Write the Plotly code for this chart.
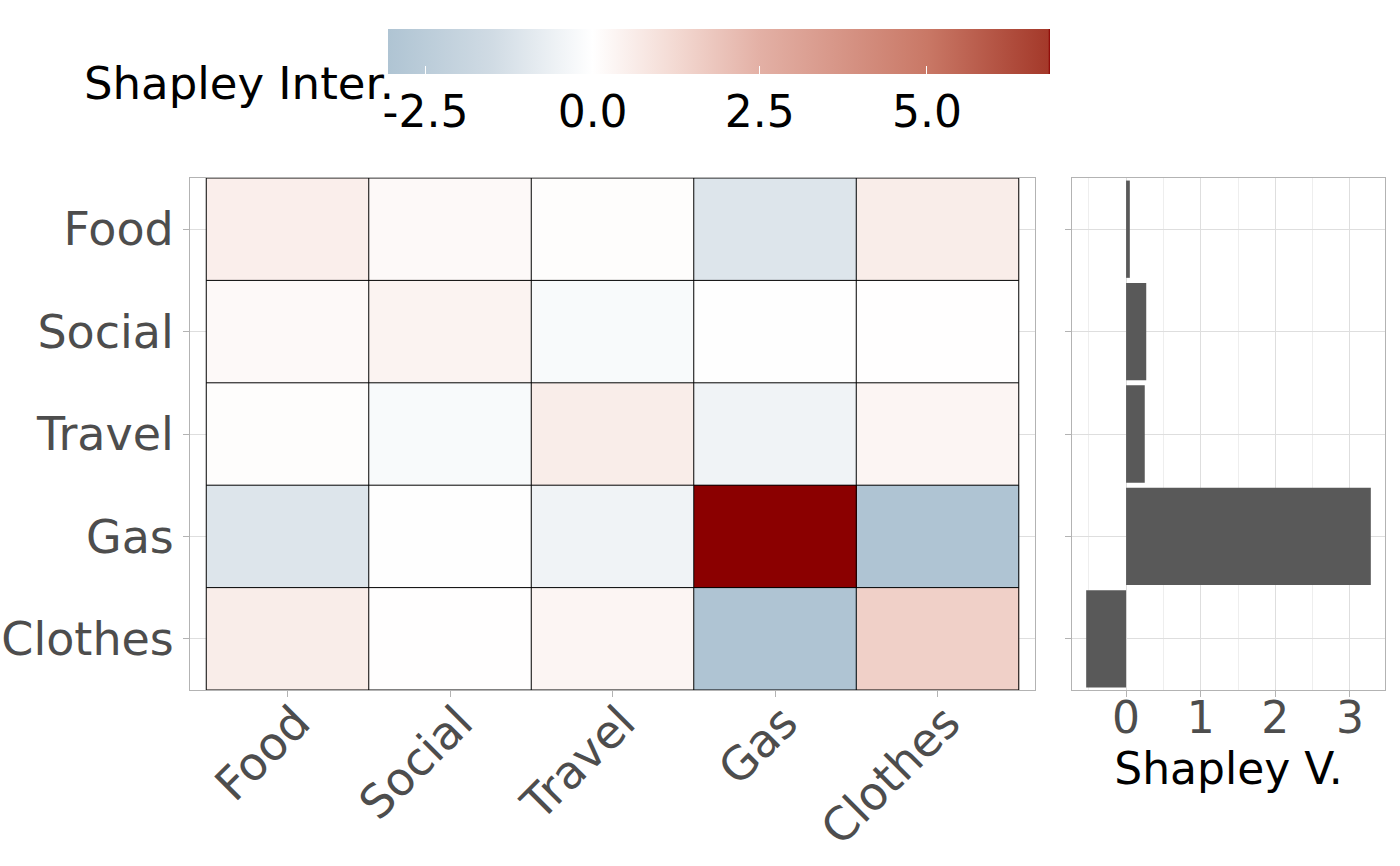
import plotly.graph_objects as go

# data
cats = ['Food', 'Social', 'Travel', 'Gas', 'Clothes']
inter_food = [0.55, 0.2, 0.08, -1.1, 0.6]
inter_social = [0.2, 0.4, -0.22, -0.03, 0.03]
inter_travel = [0.08, -0.22, 0.6, -0.48, 0.32]
inter_gas = [-1.1, -0.03, -0.48, 6.84, -3.06]
inter_clothes = [0.6, 0.03, 0.32, -3.06, 1.52]
shapley = [0.05, 0.27, 0.25, 3.28, -0.535]
cbar_ticks = [-2.5, 0.0, 2.5, 5.0]
bar_ticks = [0, 1, 2, 3]

z = [inter_food, inter_social, inter_travel, inter_gas, inter_clothes]
zmin = min(min(r) for r in z)
zmax = max(max(r) for r in z)


def pos(v):
    return (v - zmin) / (zmax - zmin)


# blue - white - red scale, last stop goes to darkred
colorscale = [
    [0.0, '#AFC4D3'],
    [pos(-1.5), '#D0DBE4'],
    [pos(0.0), '#FFFFFF'],
    [pos(1.25), '#F3D9D2'],
    [pos(2.5), '#E3B0A5'],
    [pos(5.0), '#C97866'],
    [0.997, '#A4392A'],
    [1.0, '#8B0000'],
]

W, H = 1400, 866
FONT = 'DejaVu Sans'
GRID = '#DEDEDE'
LINE = '#B3B3B3'
TXT = '#4D4D4D'

heat = go.Heatmap(
    z=z, x=cats, y=cats, zmin=zmin, zmax=zmax,
    colorscale=colorscale, xaxis='x', yaxis='y',
    colorbar=dict(
        orientation='h', x=719 / W, xanchor='center', y=1 - 29 / H, yanchor='top',
        len=662, lenmode='pixels', thickness=45, xpad=0, ypad=0, outlinewidth=0,
        tickvals=cbar_ticks, ticktext=['%.1f' % t for t in cbar_ticks],
        ticks='inside', tickcolor='white', ticklen=8, tickwidth=1,
        tickfont=dict(family=FONT, size=44, color='black'),
    ),
)

bar = go.Bar(
    x=shapley, y=cats, orientation='h', width=0.95,
    marker=dict(color='#595959', line=dict(width=0)),
    xaxis='x2', yaxis='y2', showlegend=False,
)

fig = go.Figure(data=[heat, bar])

# black cell borders
n = len(cats)
shapes = []
for k in range(n + 1):
    shapes.append(dict(type='line', xref='x', yref='y', x0=k - 0.5, x1=k - 0.5,
                       y0=-0.5, y1=n - 0.5, line=dict(color='black', width=1)))
    shapes.append(dict(type='line', xref='x', yref='y', y0=k - 0.5, y1=k - 0.5,
                       x0=-0.5, x1=n - 0.5, line=dict(color='black', width=1)))

axis_common = dict(showline=True, linecolor=LINE, linewidth=1, mirror=True,
                   ticks='outside', tickcolor=LINE, ticklen=6, tickwidth=1,
                   gridcolor=GRID, gridwidth=1, zeroline=False, automargin=False)

fig.update_layout(
    template='none',
    width=W, height=H,
    margin=dict(l=0, r=0, t=0, b=0, autoexpand=False),
    paper_bgcolor='white', plot_bgcolor='white',
    font=dict(family=FONT, color=TXT),
    shapes=shapes,
    xaxis=dict(domain=[190 / W, 1035 / W], range=[-0.6, n - 0.4], tickangle=-45,
               tickfont=dict(size=46, color=TXT), showgrid=True,
               ticklabelstandoff=-20, ticklabelshift=9, **axis_common),
    yaxis=dict(domain=[1 - 690 / H, 1 - 178 / H], range=[n - 0.5, -0.5],
               tickfont=dict(size=46, color=TXT), showgrid=True, **axis_common),
    xaxis2=dict(domain=[1072 / W, 1385 / W], anchor='y2',
                range=[-0.725, 3.47], tickvals=bar_ticks,
                tickfont=dict(size=44, color=TXT), showgrid=True, ticklabelstandoff=-17,
                minor=dict(dtick=0.5, tick0=0.5, showgrid=True, gridcolor='#EEEEEE', gridwidth=1, ticks=''),
                title=dict(text='Shapley V.', font=dict(size=44, color='black'), standoff=0),
                **axis_common),
    yaxis2=dict(domain=[1 - 690 / H, 1 - 178 / H], anchor='x2', range=[n - 0.5, -0.5],
                categoryorder='array', categoryarray=cats, showticklabels=False,
                showgrid=True, **axis_common),
    annotations=[dict(text='Shapley Inter.', xref='paper', yref='paper',
                      x=82 / W, y=1 - 84 / H, xanchor='left', yanchor='middle',
                      showarrow=False, font=dict(size=45, color='black', family=FONT))],
    bargap=0.05,
)

fig.write_html('out.html', config={'displayModeBar': False},
               post_script="document.body.style.margin='0';")
